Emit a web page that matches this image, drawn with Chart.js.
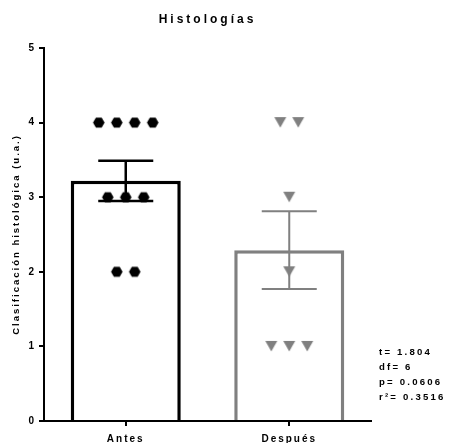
<!DOCTYPE html>
<html>
<head>
<meta charset="utf-8">
<title>Histologías</title>
<script src="https://cdn.jsdelivr.net/npm/chart.js@4/dist/chart.umd.min.js"></script>
<style>
  html, body { margin: 0; padding: 0; background: #fff; overflow: hidden; }
  canvas { display: block; }
</style>
</head>
<body>
<canvas id="chart" width="450" height="443"></canvas>
<script>
// ==== Data ====
const groups = ["Antes", "Después"];
const barMeans = [3.22, 2.29];
const barSem = [0.27, 0.52];
const antesScores = [4, 4, 4, 4, 3, 3, 3, 2, 2];
const despuesScores = [4, 4, 3, 2, 1, 1, 1];
const yTicks = [0, 1, 2, 3, 4, 5];
const statLines = ["t= 1.804", "df= 6", "p= 0.0606", "r²= 0.3516"];

const groupColors = ["#000000", "#808080"];
const FONT = "'Liberation Sans', Arial, sans-serif";

// ==== Letter spacing (GraphPad style spaced text) ====
const canvas = document.getElementById("chart");
const ctx = canvas.getContext("2d");
// font size -> letter spacing in px
const spacingBySize = { 12: 3, 10: 2, 9.5: 2, 9.6: 2.2 };
const baseFill = ctx.fillText.bind(ctx);
const baseMeasure = ctx.measureText.bind(ctx);
function withSpacing(text, fn) {
  const m = /([\d.]+)px/.exec(ctx.font);
  const size = m ? parseFloat(m[1]) : 0;
  const prev = ctx.letterSpacing;
  ctx.letterSpacing = String(text).length > 1 ? (spacingBySize[size] || 0) + "px" : "0px";
  const r = fn();
  ctx.letterSpacing = prev;
  return r;
}
ctx.fillText = (text, x, y, w) =>
  withSpacing(text, () => (w === undefined ? baseFill(text, x, y) : baseFill(text, x, y, w)));
ctx.measureText = text => withSpacing(text, () => baseMeasure(text));

// ==== Markers ====
function hexagon(r, color) {
  const c = document.createElement("canvas");
  c.width = Math.ceil(2 * r) + 2;
  c.height = Math.ceil(Math.sqrt(3) * r) + 2;
  const g = c.getContext("2d");
  g.fillStyle = color;
  g.beginPath();
  for (let k = 0; k < 6; k++) {
    const a = (Math.PI / 3) * k;
    g.lineTo(c.width / 2 + r * Math.cos(a), c.height / 2 + r * Math.sin(a));
  }
  g.closePath();
  g.fill();
  return c;
}
function triangleDown(w, h, color) {
  const c = document.createElement("canvas");
  c.width = Math.ceil(w) + 2;
  c.height = Math.ceil(h) + 2;
  const g = c.getContext("2d");
  g.fillStyle = color;
  g.beginPath();
  g.moveTo(1, 1);
  g.lineTo(1 + w, 1);
  g.lineTo(1 + w / 2, 1 + h);
  g.closePath();
  g.fill();
  return c;
}

// spread equal scores side by side around the group centre
function columnPoints(scores, groupIndex) {
  const counts = {};
  scores.forEach(v => counts[v] = (counts[v] || 0) + 1);
  const seen = {};
  return scores.map(v => {
    const k = seen[v] = (seen[v] || 0) + 1;
    return { x: groupIndex + (k - 1 - (counts[v] - 1) / 2) * 0.11, y: v };
  });
}

// ==== Plugins ====
const errorBars = {
  id: "errorBars",
  afterDatasetDraw(chart, args) {
    if (args.index !== 0) return;
    const c = chart.ctx;
    const y = chart.scales.y;
    args.meta.data.forEach((bar, i) => {
      const top = y.getPixelForValue(barMeans[i] + barSem[i]);
      const bottom = y.getPixelForValue(barMeans[i] - barSem[i]);
      const half = bar.width / 4;
      c.save();
      c.strokeStyle = groupColors[i];
      c.lineWidth = i === 0 ? 2.5 : 2;
      c.beginPath();
      c.moveTo(bar.x, top); c.lineTo(bar.x, bottom);
      c.moveTo(bar.x - half, top); c.lineTo(bar.x + half, top);
      c.moveTo(bar.x - half, bottom); c.lineTo(bar.x + half, bottom);
      c.stroke();
      c.restore();
    });
  }
};

const statsText = {
  id: "statsText",
  afterDraw(chart) {
    const c = chart.ctx;
    const area = chart.chartArea;
    c.save();
    c.font = "bold 9.6px " + FONT;
    c.fillStyle = "#000";
    c.textBaseline = "middle";
    c.textAlign = "left";
    statLines.forEach((line, i) => {
      c.fillText(line, area.right + 8, area.bottom - 69 + i * 15);
    });
    c.restore();
  }
};

// ==== Chart ====
Chart.defaults.font.family = FONT;
Chart.defaults.color = "#000";

new Chart(canvas, {
  type: "bar",
  data: {
    labels: groups,
    datasets: [
      {
        data: barMeans,
        backgroundColor: "#ffffff",
        borderColor: groupColors,
        borderWidth: 3.5,
        barPercentage: 0.673,
        categoryPercentage: 1,
        grouped: false,
        order: 2
      },
      {
        type: "scatter",
        data: columnPoints(antesScores, 0),
        xAxisID: "xp",
        pointStyle: hexagon(5.8, groupColors[0]),
        pointRadius: 5,
        order: 0
      },
      {
        type: "scatter",
        data: columnPoints(despuesScores, 1),
        xAxisID: "xp",
        pointStyle: triangleDown(12, 10.5, groupColors[1]),
        pointRadius: 5,
        order: 0
      }
    ]
  },
  options: {
    responsive: false,
    devicePixelRatio: 1,
    animation: false,
    layout: { padding: { left: 0, right: 79, top: 0, bottom: 0 } },
    plugins: {
      legend: { display: false },
      tooltip: { enabled: false },
      title: {
        display: true,
        text: "Histologías",
        fullSize: false,
        color: "#000",
        font: { size: 12, weight: "bold" },
        padding: { top: 12, bottom: 21.6 }
      }
    },
    scales: {
      x: {
        type: "category",
        offset: true,
        grid: { offset: false, drawOnChartArea: false, color: "#000", lineWidth: 2, tickLength: 5 },
        border: { color: "#000", width: 2 },
        ticks: { color: "#000", font: { size: 10, weight: "bold" }, padding: 7 },
        afterFit: s => { s.height = 22; }
      },
      xp: {
        type: "linear",
        axis: "x",
        min: -0.5,
        max: 1.5,
        offset: false,
        grace: 0,
        display: false
      },
      y: {
        min: 0,
        max: 5,
        afterBuildTicks: s => { s.ticks = yTicks.map(v => ({ value: v })); },
        grid: { drawOnChartArea: false, color: "#000", lineWidth: 2, tickLength: 5 },
        border: { color: "#000", width: 2 },
        ticks: { color: "#000", font: { size: 10, weight: "bold" }, padding: 5 },
        title: {
          display: true,
          text: "Clasificación histológica (u.a.)",
          color: "#000",
          font: { size: 9.5, weight: "bold" },
          padding: { top: 11, bottom: 0 }
        },
        afterFit: s => { s.width = 44; }
      }
    }
  },
  plugins: [errorBars, statsText]
});
</script>
</body>
</html>
